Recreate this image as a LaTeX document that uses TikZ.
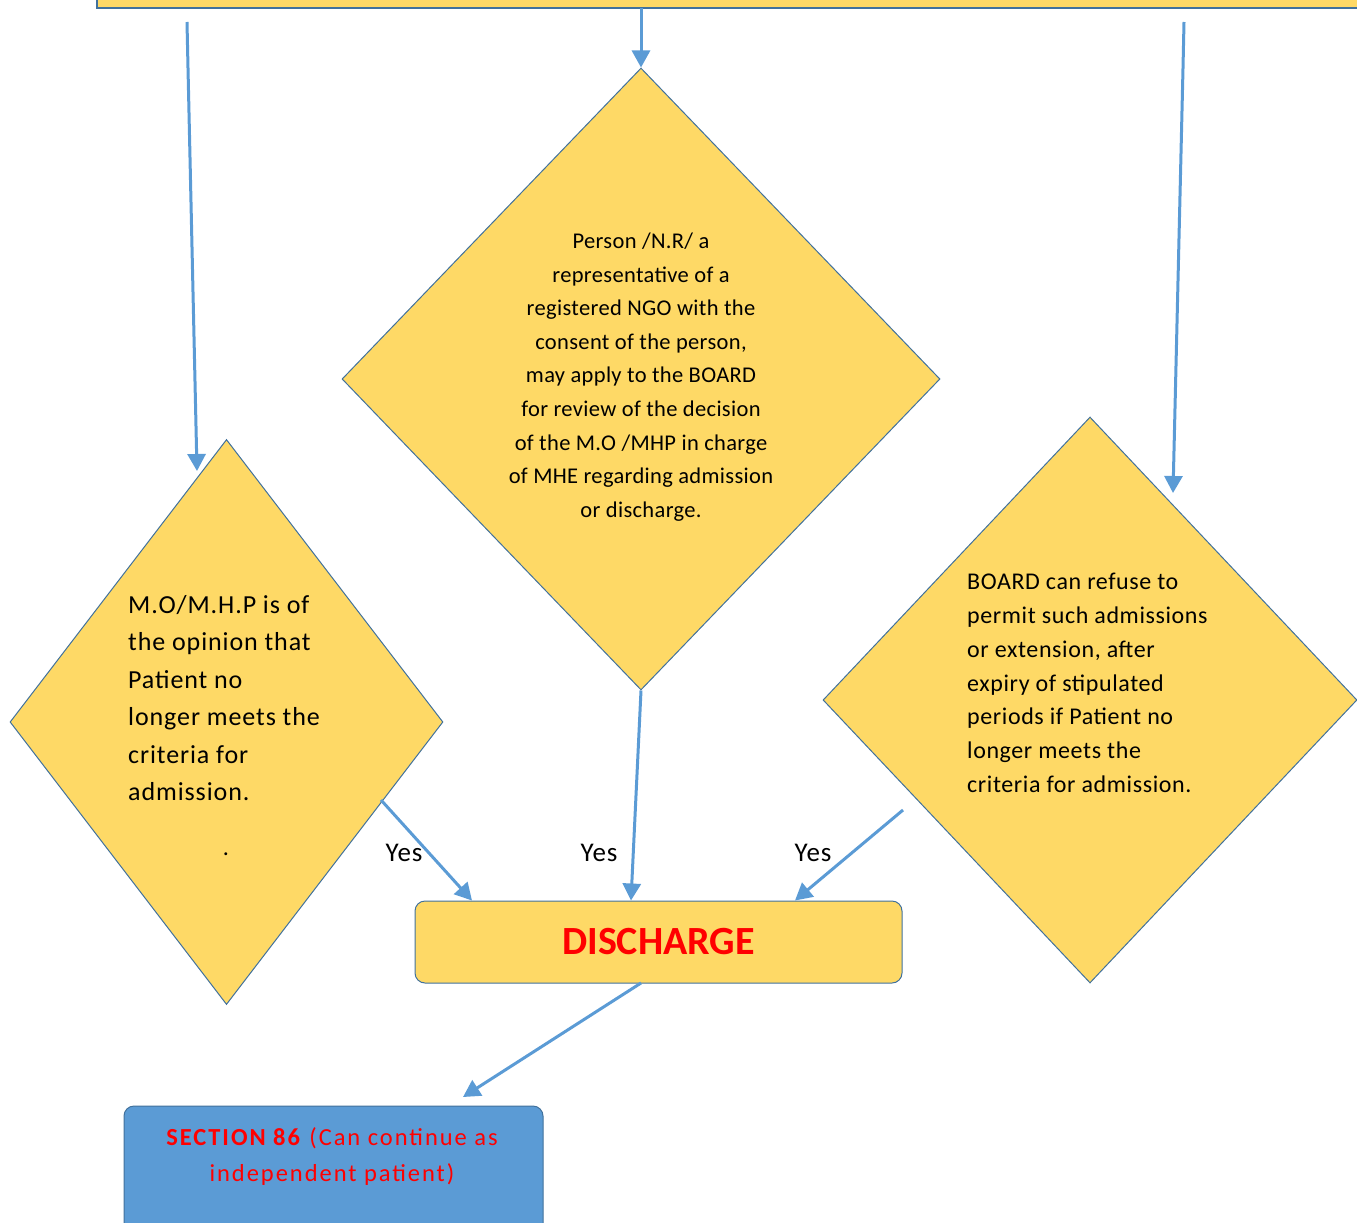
\documentclass[tikz,border=0pt]{standalone}
\usepackage{fontspec}
\setmainfont{Carlito}
\usetikzlibrary{shapes.geometric,arrows.meta}
\definecolor{boxyellow}{HTML}{FED966}
\definecolor{edgeblue}{HTML}{41719C}
\definecolor{linkblue}{HTML}{5B9BD5}
\definecolor{alertred}{HTML}{FF0000}
\tikzset{
  decision/.style={diamond, draw=edgeblue, fill=boxyellow, line width=1pt,
    inner sep=0pt, aspect=1},
  endbox/.style={rectangle, rounded corners=10pt, draw=edgeblue, line width=1pt},
  flow/.style={draw=linkblue, line width=3pt,
    -{Triangle[width=18pt,length=17pt]}},
  yeslabel/.style={font=\fontsize{27}{30}\selectfont\addfontfeatures{LetterSpace=3}}
}
\begin{document}
\begin{tikzpicture}[x=1pt,y=-1pt]
  \useasboundingbox (0,0) rectangle (1357,1223);
  % top box, only its lower part is visible
  \fill[boxyellow, draw=edgeblue, line width=1.5pt] (97,-20) rectangle (1380,8);
  \coordinate (topmid) at (641,8);
  \coordinate (topleft) at (187,22);
  \coordinate (topright) at (1184,22);

  % the three decisions
  \node[decision, minimum width=598pt, minimum height=622pt] (review) at (641,379) {};
  \node[decision, minimum width=433pt, minimum height=565pt] (opinion) at (226.5,722) {};
  \node[decision, minimum width=534pt, minimum height=566pt] (refuse) at (1090,700) {};

  \node[align=center, font=\fontsize{22.5}{33.6}\selectfont\addfontfeatures{LetterSpace=1.5}] (reviewtext) at (641,377) {
    Person /N.R/ a\\ representative of a\\ registered NGO with the\\
    consent of the person,\\ may apply to the BOARD\\ for review of the decision\\
    of the M.O /MHP in charge\\ of MHE regarding admission\\ or discharge.};
  \node[align=left, anchor=west, inner sep=0pt, font=\fontsize{26}{37.4}\selectfont\addfontfeatures{LetterSpace=3.5}] (opiniontext) at (128,698) {
    M.O/M.H.P is of\\ the opinion that\\ Patient no\\ longer meets the\\
    criteria for\\ admission.};
  \node[font=\fontsize{24}{28}\selectfont] (dot) at (226,854) {.};
  \node[align=left, anchor=west, inner sep=0pt, font=\fontsize{24}{33.8}\selectfont\addfontfeatures{LetterSpace=2.5}] (refusetext) at (967,683) {
    BOARD can refuse to\\ permit such admissions\\ or extension, after\\
    expiry of stipulated\\ periods if Patient no\\ longer meets the\\
    criteria for admission.};

  % outcome boxes
  \node[endbox, fill=boxyellow, minimum width=487pt, minimum height=82pt,
    font=\fontsize{40}{44}\selectfont\bfseries, text=alertred] (discharge) at (658.5,942) {DISCHARGE};
  \node[endbox, fill=linkblue, minimum width=419pt, minimum height=150pt] (section) at (333.5,1181) {};
  \node[align=center, text=alertred, font=\fontsize{24.5}{36}\selectfont\addfontfeatures{LetterSpace=8}] (sectiontext) at (332,1157) {
    \textbf{SECTION 86} (Can continue as\\ independent patient)};

  % connectors
  \draw[flow] (topmid) -- (review.north);
  \draw[flow] (topleft) -- (188,68) -- (197,471);
  \draw[flow] (topright) -- (1183,68) -- (1173,493);
  \coordinate (opinionout) at (381,800);
  \coordinate (refuseout) at (903,810);
  \coordinate (dischargeout) at (641,983);
  \draw[flow] (opinionout) -- (discharge.north -| 472,0);
  \draw[flow] (review.south) -- (discharge.north -| 631,0);
  \draw[flow] (refuseout) -- (discharge.north -| 795,0);
  \draw[flow] (dischargeout) -- (463,1097);

  \node[yeslabel] (yesleft) at (404,853) {Yes};
  \node[yeslabel] (yesmid) at (599,853) {Yes};
  \node[yeslabel] (yesright) at (813,853) {Yes};
\end{tikzpicture}
\end{document}
